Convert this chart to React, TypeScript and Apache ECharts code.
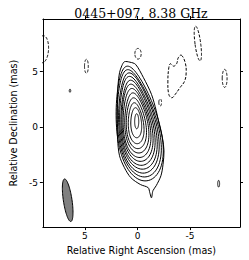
import React, { useEffect, useRef } from "react";
import * as echarts from "echarts";

// Axis ticks (mas)
const xTicks = [5, 0, -5];
const yTicks = [-5, 0, 5];

// Outermost (lowest) positive contour, traced (RA, Dec in mas)
const outerRA = [1.24, 0.72, 0.18, -0.57, -1.33, -1.78, -2.07, -2.37, -2.52, -2.43, -2.23, -1.78, -1.47, -1.33, -1.17, -1.02, -0.27, 0.63, 1.24, 1.71, 1.89, 1.94, 1.91, 1.85, 1.71, 1.49];
const outerDec = [5.9, 5.86, 5.66, 4.46, 2.96, 1.49, 0.25, -0.95, -2.12, -3.35, -4.37, -5.27, -5.72, -6.36, -5.9, -5.45, -5.16, -4.55, -3.65, -2.57, -1.13, 0.68, 2.48, 3.83, 4.91, 5.54];

// Inner positive contours: extents (mas), tilt (deg) and egg-shape factor
const contourEast = [1.85, 1.76, 1.67, 1.58, 1.49, 1.4, 1.31, 1.17, 1.04, 0.86, 0.63, 0.27];
const contourWest = [-2.34, -2.16, -1.98, -1.8, -1.62, -1.44, -1.26, -1.08, -0.86, -0.63, -0.41, -0.12];
const contourNorth = [5.59, 5.27, 4.96, 4.64, 4.28, 3.92, 3.52, 3.11, 2.66, 2.21, 1.76, 1.22];
const contourSouth = [-4.91, -4.55, -4.19, -3.83, -3.47, -3.11, -2.75, -2.34, -1.94, -1.49, -0.95, -0.14];
const contourTilt = [11, 11, 10, 10, 9, 9, 8, 7, 6, 5, 3, 0];
const contourEgg = [0.3, 0.3, 0.3, 0.3, 0.3, 0.28, 0.26, 0.24, 0.22, 0.2, 0.15, 0.05];

// Negative (dashed) contours: ellipses
const negRA = [9.0, 4.86, -0.05, -2.16, -5.74, -8.29];
const negDec = [7.03, 5.49, 6.62, 2.23, 7.54, 4.4];
const negA = [1.22, 0.63, 0.48, 0.32, 1.58, 0.81];
const negB = [0.54, 0.18, 0.3, 0.13, 0.27, 0.23];
const negTilt = [-3, 0, 0, 0, 8, 0];

// Negative irregular contour
const negBlobRA = [-4.17, -4.54, -4.63, -4.48, -4.03, -3.58, -3.27, -2.98, -2.89, -2.98, -3.13, -3.43, -3.72, -3.88];
const negBlobDec = [6.49, 5.81, 4.91, 4.15, 3.55, 2.95, 2.65, 2.95, 4.15, 5.36, 5.72, 5.5, 5.72, 6.26];

// Small positive islands
const posRA = [6.42, -7.72];
const posDec = [3.29, -5.09];
const posA = [0.14, 0.3];
const posB = [0.07, 0.09];

// Restoring beam
const beamRA = [6.64];
const beamDec = [-6.58];
const beamA = [1.94];
const beamB = [0.41];
const beamTilt = [9];

const N = 90;
function ellipsePts(api: any, cx: number, cy: number, a: number, b: number, tiltDeg: number, egg = 0) {
  const t = (tiltDeg * Math.PI) / 180;
  const pts: number[][] = [];
  for (let k = 0; k < N; k++) {
    const u = (2 * Math.PI * k) / N;
    const v = a * Math.sin(u);
    const w = b * Math.cos(u) * (1 - egg * Math.sin(u));
    const ra = cx + v * Math.sin(t) + w * Math.cos(t);
    const de = cy + v * Math.cos(t) - w * Math.sin(t);
    pts.push(api.coord([ra, de]));
  }
  return pts;
}

const solid = { fill: "none", stroke: "#000", lineWidth: 1 };
const dashed = { fill: "none", stroke: "#000", lineWidth: 1, lineDash: [3, 1.6] };

export default function App() {
  const ref = useRef<HTMLDivElement>(null);
  useEffect(() => {
    if (!ref.current) return;
    const chart = echarts.init(ref.current, undefined, { renderer: "svg" });
    const axisCommon = {
      type: "value" as const,
      splitLine: { show: false },
      axisLine: { show: true, onZero: false, lineStyle: { color: "#000", width: 1 } },
    };
    const labelStyle = { color: "#000", fontSize: 9, fontFamily: "DejaVu Sans" };
    chart.setOption({
      animation: false,
      backgroundColor: "#fff",
      title: {
        text: "0445+097, 8.38 GHz",
        left: 136,
        top: 2,
        textAlign: "center",
        textStyle: { fontFamily: "DejaVu Serif", fontSize: 12.5, fontWeight: "normal", color: "#000" },
      },
      grid: { left: 32, top: 19, width: 208, height: 208.5, containLabel: false },
      xAxis: [
        {
          ...axisCommon,
          min: -9.75,
          max: 9,
          inverse: true,
          position: "bottom",
          axisTick: { show: true, inside: false, length: 3, customValues: xTicks, lineStyle: { color: "#000" } },
          axisLabel: { show: true, customValues: xTicks, margin: 4, ...labelStyle },
          name: "Relative Right Ascension (mas)",
          nameLocation: "middle",
          nameGap: 15,
          nameTextStyle: { color: "#000", fontSize: 9.6, fontFamily: "DejaVu Sans" },
        },
        {
          ...axisCommon,
          min: -9.75,
          max: 9,
          inverse: true,
          position: "top",
          axisTick: { show: true, inside: false, length: 3, customValues: xTicks, lineStyle: { color: "#000" } },
          axisLabel: { show: false },
        },
      ],
      yAxis: [
        {
          ...axisCommon,
          min: -9,
          max: 9.75,
          position: "left",
          axisTick: { show: true, inside: false, length: 3, customValues: yTicks, lineStyle: { color: "#000" } },
          axisLabel: { show: true, customValues: yTicks, margin: 5, ...labelStyle },
          name: "Relative Declination (mas)",
          nameLocation: "middle",
          nameGap: 16,
          nameRotate: 90,
          nameTextStyle: { color: "#000", fontSize: 9.6, fontFamily: "DejaVu Sans" },
        },
        {
          ...axisCommon,
          min: -9,
          max: 9.75,
          position: "right",
          axisTick: { show: true, inside: false, length: 3, customValues: yTicks, lineStyle: { color: "#000" } },
          axisLabel: { show: false },
        },
      ],
      series: [
        {
          type: "custom",
          clip: true,
          data: [[0, 0]],
          renderItem: (_p: any, api: any) => ({
            type: "polygon",
            shape: { points: outerRA.map((r, i) => api.coord([r, outerDec[i]])), smooth: 0.3 },
            style: solid,
          }),
        },
        {
          type: "custom",
          clip: true,
          data: contourEast.map(() => [0, 0]),
          renderItem: (p: any, api: any) => {
            const i = p.dataIndex;
            const t = (contourTilt[i] * Math.PI) / 180;
            const a = (contourNorth[i] - contourSouth[i]) / 2;
            const b = (contourEast[i] - contourWest[i]) / 2 / (1 + contourEgg[i] * 0.14);
            const cy = (contourNorth[i] + contourSouth[i]) / 2;
            const cx = (contourEast[i] + contourWest[i]) / 2 + 0.26 * a * Math.sin(t);
            return {
              type: "polygon",
              shape: { points: ellipsePts(api, cx, cy, a, b, contourTilt[i], contourEgg[i]) },
              style: solid,
            };
          },
        },
        {
          type: "custom",
          clip: true,
          data: negRA.map(() => [0, 0]),
          renderItem: (p: any, api: any) => {
            const i = p.dataIndex;
            return { type: "polygon", shape: { points: ellipsePts(api, negRA[i], negDec[i], negA[i], negB[i], negTilt[i]) }, style: dashed };
          },
        },
        {
          type: "custom",
          clip: true,
          data: [[0, 0]],
          renderItem: (_p: any, api: any) => ({
            type: "polygon",
            shape: { points: negBlobRA.map((r, i) => api.coord([r, negBlobDec[i]])), smooth: 0.4 },
            style: dashed,
          }),
        },
        {
          type: "custom",
          clip: true,
          data: posRA.map(() => [0, 0]),
          renderItem: (p: any, api: any) => {
            const i = p.dataIndex;
            return { type: "polygon", shape: { points: ellipsePts(api, posRA[i], posDec[i], posA[i], posB[i], 0) }, style: solid };
          },
        },
        {
          type: "custom",
          clip: true,
          data: beamRA.map(() => [0, 0]),
          renderItem: (p: any, api: any) => {
            const i = p.dataIndex;
            return {
              type: "polygon",
              shape: { points: ellipsePts(api, beamRA[i], beamDec[i], beamA[i], beamB[i], beamTilt[i]) },
              style: { fill: "#808080", stroke: "#000", lineWidth: 1 },
            };
          },
        },
      ],
    });
    return () => chart.dispose();
  }, []);
  return <div ref={ref} style={{ position: "fixed", left: 0, top: 0, width: 249, height: 260 }} />;
}
